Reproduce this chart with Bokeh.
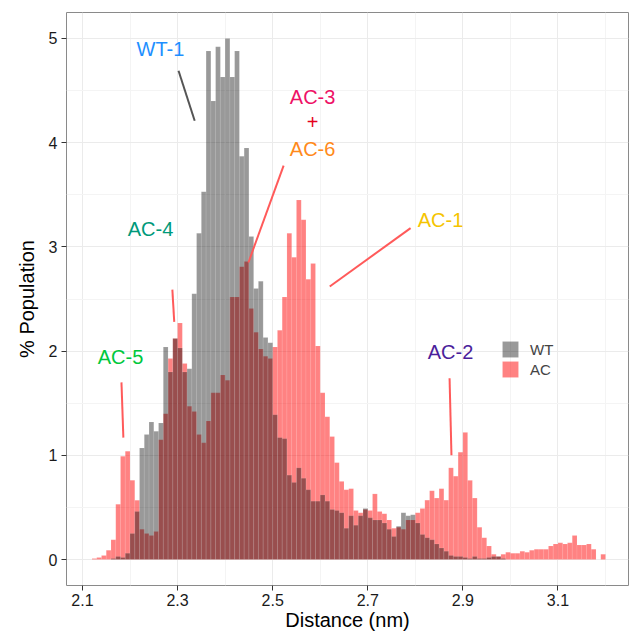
from bokeh.plotting import figure
from bokeh.models import ColumnDataSource, FixedTicker, Legend, LegendItem
from bokeh.core.properties import value
from bokeh.embed import file_html
from bokeh.resources import INLINE

BIN = 0.01
ac_start = 2.12
ac_vals = [0.01, 0.02, 0.04, 0.09, 0.19, 0.53, 0.99, 1.04, 0.76, 0.57,
           0.29, 0.25, 0.23, 0.27, 1.15, 1.40, 1.93, 2.12, 2.27, 1.88,
           1.47, 1.42, 1.20, 1.12, 1.33, 1.60, 1.60, 1.77, 1.72, 2.52,
           2.52, 2.81, 2.86, 2.41, 2.18, 2.02, 1.95, 1.93, 2.04, 2.20,
           2.52, 3.13, 2.90, 3.45, 3.26, 2.69, 2.84, 2.05, 1.60, 1.37,
           1.18, 0.93, 0.75, 0.67, 0.68, 0.47, 0.45, 0.48, 0.47, 0.63,
           0.46, 0.44, 0.38, 0.30, 0.31, 0.29, 0.38, 0.38, 0.45, 0.49,
           0.57, 0.66, 0.59, 0.68, 0.57, 0.88, 0.80, 1.03, 1.22, 0.76,
           0.59, 0.31, 0.21, 0.13, 0.05, 0.03, 0.05, 0.07, 0.06, 0.06,
           0.08, 0.07, 0.09, 0.10, 0.10, 0.10, 0.13, 0.15, 0.16, 0.15,
           0.16, 0.23, 0.14, 0.14, 0.15, 0.10, 0.00, 0.05]
wt_start = 2.16
wt_vals = [0.01, 0.03, 0.02, 0.06, 0.25, 0.46, 1.07, 1.20, 1.32, 1.23,
           1.31, 2.04, 1.80, 2.12, 2.03, 1.80, 1.83, 2.55, 3.13, 3.53,
           4.88, 4.40, 4.92, 4.63, 5.00, 4.63, 4.88, 3.87, 3.95, 3.10,
           2.60, 2.67, 2.13, 2.08, 1.39, 1.17, 1.16, 0.81, 0.74, 0.88,
           0.78, 0.67, 0.56, 0.56, 0.62, 0.56, 0.48, 0.47, 0.45, 0.30,
           0.42, 0.33, 0.42, 0.49, 0.40, 0.38, 0.38, 0.35, 0.29, 0.22,
           0.32, 0.45, 0.42, 0.43, 0.35, 0.24, 0.21, 0.19, 0.15, 0.11,
           0.08, 0.04, 0.03, 0.03, 0.02, 0.01, 0.03, 0.01, 0.01, 0.02,
           0.03, 0.03, 0.01]

x_ticks = [2.1, 2.3, 2.5, 2.7, 2.9, 3.1]
x_minor = [2.2, 2.4, 2.6, 2.8, 3.0, 3.2]
y_ticks = [0, 1, 2, 3, 4, 5]
y_minor = [0.5, 1.5, 2.5, 3.5, 4.5]

labels = ["WT-1", "AC-3", "+", "AC-6", "AC-1", "AC-4", "AC-5", "AC-2"]
label_x = [2.264, 2.584, 2.584, 2.584, 2.853, 2.243, 2.180, 2.874]
label_y = [4.90, 4.44, 4.20, 3.94, 3.26, 3.17, 1.94, 1.99]
label_colors = ["#1E8FFF", "#EE1166", "#E5001C", "#FF8A1A", "#F5C400",
                "#00997A", "#00C83C", "#4B1E9B"]

seg_x0 = [2.302, 2.523, 2.790, 2.289, 2.182, 2.872]
seg_y0 = [4.69, 3.78, 3.18, 2.59, 1.70, 1.74]
seg_x1 = [2.336, 2.449, 2.620, 2.293, 2.186, 2.876]
seg_y1 = [4.21, 2.85, 2.62, 2.28, 1.17, 1.00]
seg_colors = ["#555555", "#FF5A5A", "#FF5A5A", "#FF5A5A", "#FF5A5A", "#FF5A5A"]

ac_x = [round(ac_start + BIN * i + BIN / 2, 4) for i in range(len(ac_vals))]
wt_x = [round(wt_start + BIN * i + BIN / 2, 4) for i in range(len(wt_vals))]

FONT = "Liberation Sans"

p = figure(width=643, height=633, output_backend="svg", toolbar_location=None,
           x_range=(2.0664, 3.2483), y_range=(-0.249, 5.249),
           min_border_left=66, min_border_right=15, min_border_top=12,
           min_border_bottom=47)
p.outline_line_color = "#8a8a8a"
p.outline_line_width = 1
p.background_fill_color = "white"
p.border_fill_color = "white"

p.xgrid.grid_line_color = "#EBEBEB"
p.ygrid.grid_line_color = "#EBEBEB"
p.xgrid.minor_grid_line_color = "#F4F4F4"
p.ygrid.minor_grid_line_color = "#F4F4F4"

p.xaxis.ticker = FixedTicker(ticks=x_ticks, minor_ticks=x_minor)
p.yaxis.ticker = FixedTicker(ticks=y_ticks, minor_ticks=y_minor)
p.xgrid.ticker = p.xaxis.ticker
p.ygrid.ticker = p.yaxis.ticker

for ax in (p.xaxis, p.yaxis):
    ax.axis_line_color = None
    ax.major_tick_line_color = "#333333"
    ax.major_tick_out = 5
    ax.major_tick_in = 0
    ax.minor_tick_line_color = None
    ax.major_label_text_font = FONT
    ax.major_label_text_font_size = "16px"
    ax.major_label_text_color = "#1a1a1a"
    ax.axis_label_text_font = FONT
    ax.axis_label_text_font_size = "20px"
    ax.axis_label_text_font_style = "normal"
    ax.axis_label_text_color = "#000000"

p.xaxis.axis_label = "Distance (nm)"
p.yaxis.axis_label = "% Population"
p.xaxis.major_label_standoff = 3
p.xaxis.axis_label_standoff = 0
p.yaxis.major_label_standoff = 4
p.yaxis.axis_label_standoff = 8

ac_src = ColumnDataSource(dict(x=ac_x, top=ac_vals))
wt_src = ColumnDataSource(dict(x=wt_x, top=wt_vals))

ac_r = p.vbar(x="x", top="top", bottom=0, width=BIN, source=ac_src,
              fill_color="#FF0000", fill_alpha=0.49,
              line_color="white", line_alpha=0.2, line_width=0.5)
wt_r = p.vbar(x="x", top="top", bottom=0, width=BIN, source=wt_src,
              fill_color="#000000", fill_alpha=0.4,
              line_color="white", line_alpha=0.2, line_width=0.5)

seg_src = ColumnDataSource(dict(x0=seg_x0, y0=seg_y0, x1=seg_x1, y1=seg_y1, c=seg_colors))
p.segment(x0="x0", y0="y0", x1="x1", y1="y1", line_color="c", line_width=2,
          source=seg_src)

lab_src = ColumnDataSource(dict(x=label_x, y=label_y, t=labels, c=label_colors))
p.text(x="x", y="y", text="t", text_color="c", source=lab_src,
       text_font=value(FONT), text_font_size="20px",
       text_align="center", text_baseline="middle")

legend = Legend(items=[LegendItem(label="WT", renderers=[wt_r]),
                       LegendItem(label="AC", renderers=[ac_r])],
                location=(434, 206), orientation="vertical")
legend.glyph_width = 20
legend.glyph_height = 20
legend.spacing = 0
legend.padding = 0
legend.margin = 0
legend.label_standoff = 10
legend.label_text_font = FONT
legend.label_text_font_size = "15px"
legend.label_height = 20
legend.border_line_color = None
legend.background_fill_alpha = 0
p.add_layout(legend)

open("out.html", "w").write(file_html(p, INLINE))
